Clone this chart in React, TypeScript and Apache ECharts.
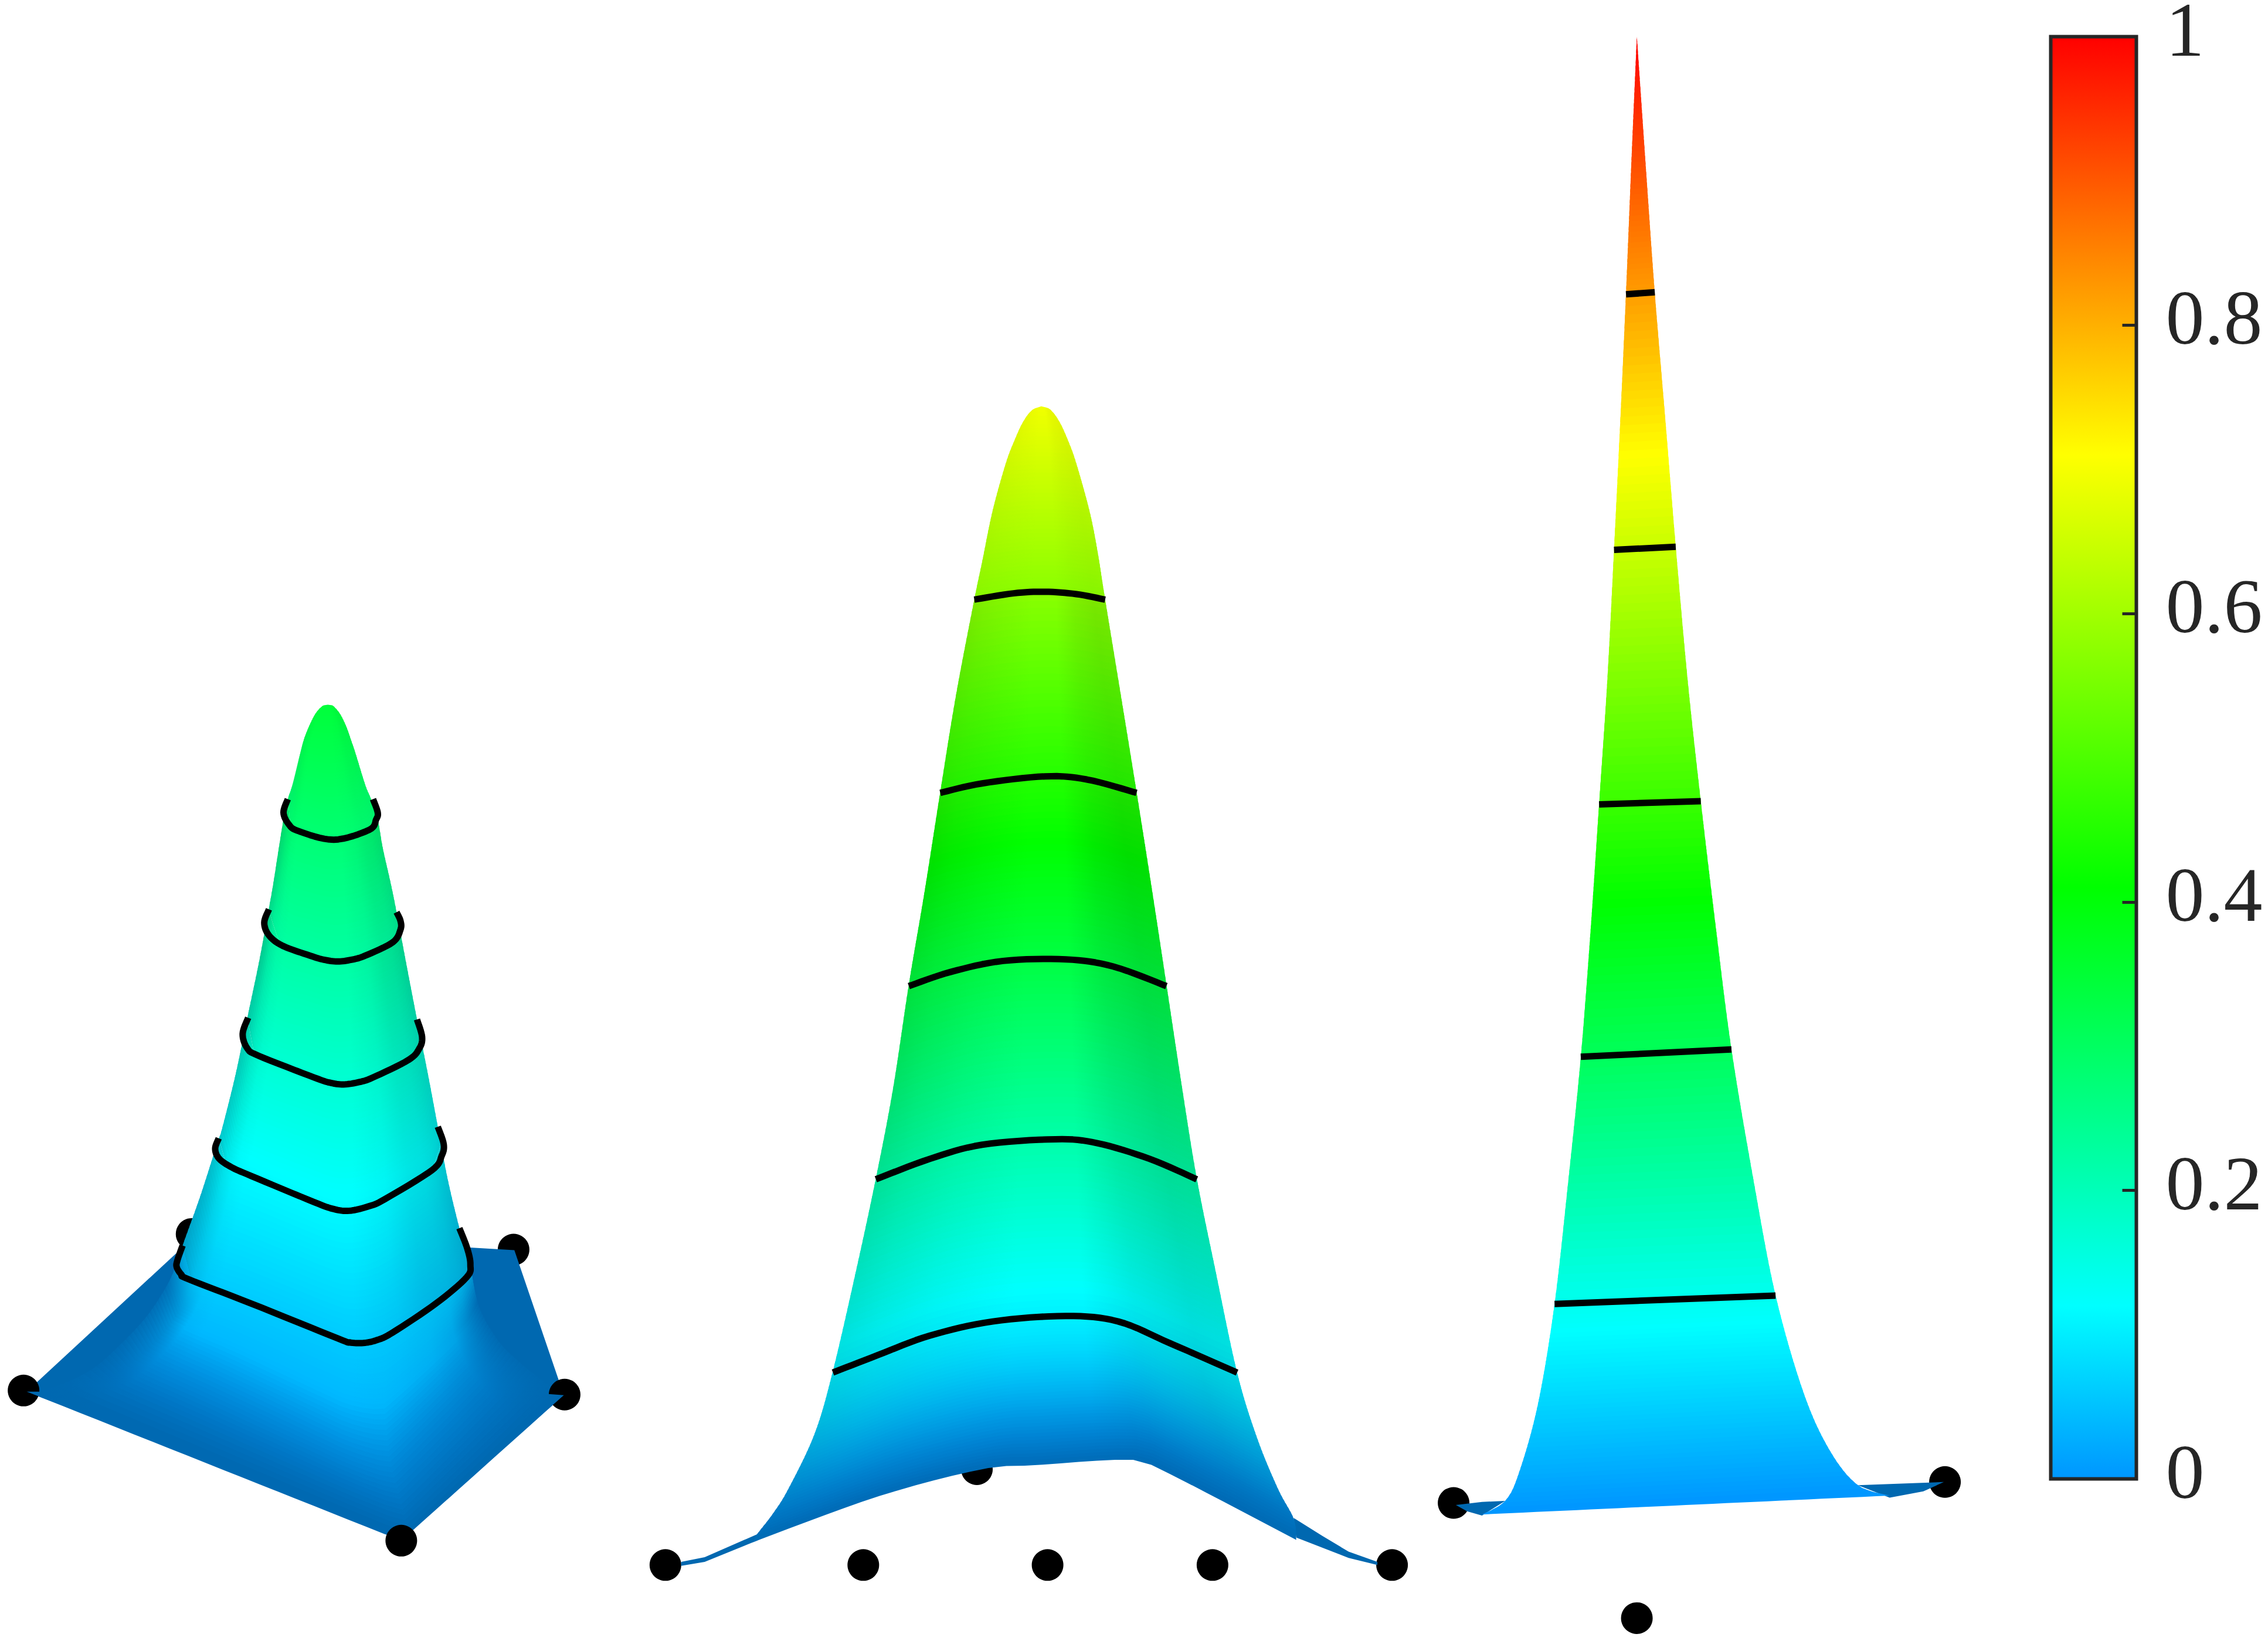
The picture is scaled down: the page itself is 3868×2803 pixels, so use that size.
import React, { useEffect, useRef } from "react";
import * as echarts from "echarts";

type P = number[];

// Colour scale
const COLOR_STOPS: [number, number[]][] = [
  [0, [0, 150, 255]],
  [0.12, [0, 255, 255]],
  [0.41, [0, 255, 0]],
  [0.71, [255, 255, 0]],
  [1, [255, 0, 0]],
];
const FLAT = [0, 104, 176];
const BAR_TICKS = [0, 0.2, 0.4, 0.6, 0.8, 1];

// Surface 1 (read in a 1568-square frame of its panel)
const S1_LEFT: P[] = [[835,52],[822,54],[805,66],[790,85],[775,110],[765,135],[745,190],[733,215],[722,250],[710,300],[695,365],[683,410],[660,495],[630,592],[600,690],[565,785],[555,805],[510,900],[465,985],[445,1025],[420,1060],[370,1110],[300,1160],[230,1200],[140,1228],[68,1237]];
const S1_RIGHT: P[] = [[835,52],[848,54],[866,68],[882,90],[895,115],[905,135],[930,190],[945,215],[962,250],[975,300],[995,360],[1010,410],[1035,500],[1062,595],[1090,690],[1115,780],[1140,870],[1170,955],[1190,1000],[1198,1020],[1220,1090],[1270,1150],[1330,1190],[1390,1222],[1436,1243]];
const S1_C1: P[] = [[465,985],[452,1010],[450,1022],[462,1035],[480,1043],[640,1085],[860,1145],[890,1152],[925,1153],[960,1148],[1000,1135],[1110,1085],[1188,1040],[1198,1018],[1190,990],[1170,955]];
const S1_C2: P[] = [[557,800],[548,818],[558,835],[590,850],[640,865],[800,910],[850,922],[890,925],[940,917],[980,905],[1100,855],[1125,830],[1130,810],[1115,780]];
const S1_C3: P[] = [[632,592],[618,620],[630,645],[660,658],[800,695],[840,704],[875,707],[915,703],[950,695],[1040,665],[1068,645],[1075,625],[1062,595]];
const S1_C4: P[] = [[685,405],[673,428],[685,450],[720,468],[790,485],[825,492],[860,495],[895,492],[930,485],[1000,462],[1020,440],[1020,425],[1010,410]];
const S1_C5: P[] = [[733,215],[722,238],[735,258],[760,270],[850,285],[940,268],[958,250],[962,238],[950,215]];
const S1_BASE_EDGE: P[] = [[68,1237],[1022,1494],[1436,1243]];
const S1_APEX: P[] = [[835,52],[836,52]];
const S1_VALUES = [0, 0.06, 0.115, 0.17, 0.225, 0.28, 0.345];
const S1_FLAT: P[] = [[68,1237],[470,985],[1190,988],[1310,993],[1436,1243],[1055,1470],[1022,1480],[985,1478]];
const S1_WEDGES: P[][] = [[[68,1237],[110,1237],[110,1248]], [[1436,1243],[1396,1241],[1396,1267]]];
const S1_DOTS_BACK: P[] = [[488,965],[1308,992]];
const S1_DOTS_TOP: P[] = [[60,1235],[1438,1242],[1022,1494]];

// Surface 2
const S2_LEFT: P[] = [[813,32],[795,37],[778,52],[762,75],[745,105],[720,165],[700,230],[685,278],[650,400],[620,523],[590,650],[560,768],[530,900],[497,1015],[460,1130],[415,1260],[380,1340],[330,1410],[300,1442],[270,1468],[262,1478]];
const S2_RIGHT: P[] = [[813,32],[830,36],[848,52],[865,77],[880,105],[905,165],[920,215],[935,278],[965,400],[995,523],[1025,650],[1052,768],[1082,900],[1110,1015],[1145,1130],[1187,1262],[1225,1345],[1265,1410],[1295,1448],[1300,1475]];
const S2_C1: P[] = [[415,1262],[500,1240],[600,1215],[720,1197],[860,1190],[960,1197],[1060,1225],[1187,1262]];
const S2_C2: P[] = [[497,1016],[600,990],[700,972],[840,965],[920,970],[1020,990],[1110,1016]];
const S2_C3: P[] = [[560,770],[640,752],[740,738],[860,736],[950,745],[1052,770]];
const S2_C4: P[] = [[620,524],[700,512],[820,503],[900,507],[995,524]];
const S2_C5: P[] = [[685,278],[760,270],[820,268],[880,271],[935,278]];
const S2_BASE_EDGE: P[] = [[262,1478],[500,1420],[700,1385],[800,1380],[980,1373],[1040,1385],[1300,1475]];
const S2_APEX: P[] = [[813,32],[814,32]];
const S2_VALUES = [0, 0.105, 0.22, 0.337, 0.455, 0.575, 0.695];
const S2_WING_L: P[] = [[125,1503],[170,1497],[270,1468],[310,1440],[310,1462],[270,1476],[170,1503],[125,1508]];
const S2_WING_R: P[] = [[1455,1503],[1400,1490],[1350,1470],[1295,1447],[1300,1472],[1400,1498],[1455,1507]];
const S2_DOTS: P[] = [[95,1507],[473,1507],[825,1507],[1140,1507],[1483,1507],[690,1385]];

// Surface 3
const S3_LEFT: P[] = [[614,35],[600,150],[585,280],[570,400],[553,525],[535,650],[513,768],[490,890],[464,1010],[430,1130],[394,1245],[350,1340],[300,1405],[262,1433],[200,1446]];
const S3_RIGHT: P[] = [[614,35],[640,170],[662,280],[690,400],[718,522],[750,650],[785,765],[825,885],[867,1002],[925,1125],[985,1237],[1060,1330],[1130,1385],[1205,1418],[1290,1428]];
const S3_C1: P[] = [[394,1245],[985,1237]];
const S3_C2: P[] = [[464,1009],[867,1002]];
const S3_C3: P[] = [[513,768],[785,765]];
const S3_C4: P[] = [[553,525],[718,522]];
const S3_C5: P[] = [[585,281],[662,279]];
const S3_BASE_EDGE: P[] = [[200,1446],[1290,1428]];
const S3_APEX: P[] = [[614,35],[615,35]];
const S3_VALUES = [0, 0.14, 0.31, 0.48, 0.65, 0.825, 1];
const S3_WING_L: P[] = [[130,1437],[200,1434],[262,1433],[200,1447],[160,1443]];
const S3_WING_R: P[] = [[1435,1415],[1205,1418],[1290,1430],[1380,1424]];
const S3_DOTS: P[] = [[124,1435],[1438,1415],[614,1545]];

const lerp = (a: number, b: number, t: number) => a + (b - a) * t;

function colormap(v: number): number[] {
  for (let i = 1; i < COLOR_STOPS.length; i++) {
    if (v <= COLOR_STOPS[i][0]) {
      const [a, ca] = COLOR_STOPS[i - 1];
      const [b, cb] = COLOR_STOPS[i];
      const t = Math.max(0, (v - a) / (b - a));
      return ca.map((c, k) => lerp(c, cb[k], t));
    }
  }
  return COLOR_STOPS[COLOR_STOPS.length - 1][1];
}
const css = (c: number[]) => `rgb(${c.map((x) => Math.round(x)).join(",")})`;

function monotone(curve: P[]): P[] {
  const out: P[] = [];
  let mx = -Infinity;
  for (const p of curve) {
    if (p[0] > mx) {
      out.push(p);
      mx = p[0];
    }
  }
  return out;
}

// Catmull-Rom drawing of a read outline, passing through every read point.
function refine(edge: P[]): P[] {
  const out: P[] = [];
  const n = edge.length;
  for (let i = 0; i < n - 1; i++) {
    const p0 = edge[Math.max(0, i - 1)];
    const p1 = edge[i];
    const p2 = edge[i + 1];
    const p3 = edge[Math.min(n - 1, i + 2)];
    for (let s = 0; s < 8; s++) {
      const t = s / 8;
      const t2 = t * t;
      const t3 = t2 * t;
      const f = (k: number) =>
        0.5 * (2 * p1[k] + (p2[k] - p0[k]) * t + (2 * p0[k] - 5 * p1[k] + 4 * p2[k] - p3[k]) * t2 + (3 * p1[k] - p0[k] - 3 * p2[k] + p3[k]) * t3);
      out.push([f(0), f(1)]);
    }
  }
  out.push(edge[n - 1]);
  return out;
}

function yAtU(curve: P[], u: number): number {
  const x0 = curve[0][0];
  const x1 = curve[curve.length - 1][0];
  const x = lerp(x0, x1, u);
  for (let i = 1; i < curve.length; i++) {
    if (x <= curve[i][0]) {
      const t = (x - curve[i - 1][0]) / (curve[i][0] - curve[i - 1][0]);
      return lerp(curve[i - 1][1], curve[i][1], t);
    }
  }
  return curve[curve.length - 1][1];
}

function xAtY(edge: P[], y: number): number {
  if (y <= edge[0][1]) return edge[0][0];
  for (let i = 1; i < edge.length; i++) {
    if (y <= edge[i][1]) {
      const dy = edge[i][1] - edge[i - 1][1];
      const t = dy > 0 ? (y - edge[i - 1][1]) / dy : 1;
      return lerp(edge[i - 1][0], edge[i][0], t);
    }
  }
  return edge[edge.length - 1][0];
}

type Look = {
  us: number[];
  ds: number[];
  bottom: (t: number) => { center: number; edge: number };
  fadeStart: number;
  bottomShade: number;
};

type Strip = { points: P[]; stops: { offset: number; color: string }[] | null; fill: string };

function buildStrips(leftRaw: P[], rightRaw: P[], curves: P[][], values: number[], perBand: number, look: Look | null): Strip[] {
  const left = refine(leftRaw);
  const right = refine(rightRaw);
  const mono = curves.map((c) => {
    const m = monotone(c);
    return m.length > 3 ? monotone(refine(m)) : m;
  });
  const N = 30;
  const curveAt = (band: number, t: number): P[] => {
    const lo = mono[band];
    const hi = mono[band + 1];
    const ys: number[] = [];
    for (let i = 0; i <= N; i++) {
      const u = i / N;
      ys.push(lerp(yAtU(lo, u), yAtU(hi, u), t));
    }
    const xl = xAtY(left, ys[0]);
    const xr = xAtY(right, ys[N]);
    return ys.map((y, i) => [lerp(xl, xr, i / N), y]);
  };
  const top = values.length - 2;
  const strips: Strip[] = [];
  for (let band = top; band >= 0; band--) {
    const n = band === 0 ? perBand + 16 : band === top ? perBand + 18 : perBand;
    const bandWeight = band === top ? 0.3 : band === top - 1 ? 0.75 : 1;
    for (let k = n; k > 0; k--) {
      const tTop = Math.min(1, k / n + 0.6 / n);
      const tBot = (k - 1) / n;
      const tMid = (k - 0.5) / n;
      const upper = curveAt(band, tTop);
      const lower = curveAt(band, tBot);
      const sideL: P[] = [];
      const sideR: P[] = [];
      for (let s = 1; s < 4; s++) {
        const yL = lerp(lower[0][1], upper[0][1], s / 4);
        const yR = lerp(upper[N][1], lower[N][1], s / 4);
        sideL.push([xAtY(left, yL), yL]);
        sideR.push([xAtY(right, yR), yR]);
      }
      const points = upper.concat(sideR, lower.slice().reverse(), sideL);
      const v = lerp(values[band], values[band + 1], tMid);
      const base = colormap(v);
      let stops: Strip["stops"] = null;
      if (look) {
        const fall = band === 0 ? 1 - tMid : 0;
        const b = band === 0 ? look.bottom(fall) : { center: 0, edge: 0 };
        const weight = band === 0 ? look.bottomShade : bandWeight;
        stops = look.us.map((u, i) => {
          const shade = 1 - look.ds[i] * weight;
          const lit = base.map((c) => c * shade);
          const side = u < 0.45 ? (0.45 - u) / 0.45 : (u - 0.45) / 0.55;
          const w = Math.min(1, Math.pow(Math.max(0, side - look.fadeStart) / (1 - look.fadeStart), 1.5));
          const d = b.center + (Math.max(b.edge, b.center) - b.center) * w;
          return { offset: u, color: css(lit.map((c, j) => lerp(c, FLAT[j], d))) };
        });
      }
      strips.push({ points, stops, fill: css(base) });
    }
  }
  return strips;
}

const LOOK_1: Look = {
  us: [0, 0.02, 0.04, 0.08, 0.13, 0.3, 0.6, 0.75, 0.85, 0.92, 0.96, 1],
  ds: [0.24, 0.16, 0.08, 0.02, 0, 0, 0, 0.04, 0.1, 0.12, 0.15, 0.2],
  fadeStart: 0.8,
  bottomShade: 0.5,
  bottom: (t) => ({ center: Math.max(0, Math.min(1, (t - 0.35) / 0.65)), edge: Math.min(1, 0.1 + t * 3) }),
};
const LOOK_2: Look = {
  us: [0, 0.1, 0.25, 0.45, 0.62, 0.75, 0.9, 1],
  ds: [0.12, 0.08, 0.04, 0, 0, 0.08, 0.13, 0.12],
  fadeStart: 0.9,
  bottomShade: 1,
  bottom: (t) => ({ center: Math.pow(t, 2.4) * 0.9, edge: Math.pow(t, 2.4) * 0.9 }),
};

function stripSeries(strips: Strip[], axis: number): any {
  return {
    type: "custom",
    xAxisIndex: axis,
    yAxisIndex: axis,
    z: 3,
    silent: true,
    data: strips.map((_, i) => [i, 0]),
    renderItem: (params: any, api: any) => {
      const s = strips[params.dataIndex];
      const fill = s.stops ? new echarts.graphic.LinearGradient(0, 0, 1, 0, s.stops) : s.fill;
      return {
        type: "polygon",
        shape: { points: s.points.map((p) => api.coord(p)) },
        style: { fill },
      };
    },
  };
}

function polySeries(points: P[], color: string, axis: number, z: number): any {
  return {
    type: "custom",
    xAxisIndex: axis,
    yAxisIndex: axis,
    z,
    silent: true,
    data: [[0, 0]],
    renderItem: (_: any, api: any) => ({
      type: "polygon",
      shape: { points: points.map((p) => api.coord(p)) },
      style: { fill: color },
    }),
  };
}

function lineSeries(points: P[], axis: number): any {
  return {
    type: "line",
    xAxisIndex: axis,
    yAxisIndex: axis,
    z: 4,
    silent: true,
    clip: false,
    smooth: false,
    showSymbol: false,
    data: points.length > 2 ? refine(points) : points,
    lineStyle: { color: "#000", width: 11, cap: "butt", join: "round", opacity: 1 },
  };
}

function dotSeries(points: P[], axis: number, z: number): any {
  return {
    type: "scatter",
    xAxisIndex: axis,
    yAxisIndex: axis,
    z,
    silent: true,
    clip: false,
    symbol: "circle",
    symbolSize: 54,
    data: points,
    itemStyle: { color: "#000", opacity: 1 },
  };
}

const hiddenX = (i: number) => ({ type: "value", gridIndex: i, min: 0, max: 1568, show: false });
const hiddenY = (i: number) => ({ type: "value", gridIndex: i, min: 0, max: 1568, inverse: true, show: false });

export default function App() {
  const ref = useRef<HTMLDivElement>(null);
  useEffect(() => {
    document.body.style.margin = "0";
    document.body.style.background = "#fff";
    const chart = echarts.init(ref.current!, undefined, { renderer: "svg", width: 3868, height: 2803 });

    const s1 = buildStrips(S1_LEFT, S1_RIGHT, [S1_BASE_EDGE, S1_C1, S1_C2, S1_C3, S1_C4, S1_C5, S1_APEX], S1_VALUES, 22, LOOK_1);
    const s2 = buildStrips(S2_LEFT, S2_RIGHT, [S2_BASE_EDGE, S2_C1, S2_C2, S2_C3, S2_C4, S2_C5, S2_APEX], S2_VALUES, 28, LOOK_2);
    const s3 = buildStrips(S3_LEFT, S3_RIGHT, [S3_BASE_EDGE, S3_C1, S3_C2, S3_C3, S3_C4, S3_C5, S3_APEX], S3_VALUES, 30, null);

    const option: any = {
      animation: false,
      backgroundColor: "#fff",
      grid: [
        { left: 0, top: 1150, width: 1050, height: 1550, outerBoundsMode: "none" },
        { left: 1050, top: 650, width: 1400, height: 2100, outerBoundsMode: "none" },
        { left: 2400, top: 0, width: 1000, height: 2800, outerBoundsMode: "none" },
        { left: 3497.5, top: 62.5, width: 146, height: 2459, outerBoundsMode: "none" },
      ],
      xAxis: [hiddenX(0), hiddenX(1), hiddenX(2), { type: "category", gridIndex: 3, data: [""], show: false }],
      yAxis: [
        hiddenY(0),
        hiddenY(1),
        hiddenY(2),
        {
          type: "value",
          gridIndex: 3,
          position: "right",
          min: BAR_TICKS[0],
          max: BAR_TICKS[BAR_TICKS.length - 1],
          interval: 0.2,
          z: 10,
          splitLine: { show: false },
          axisLine: { show: false },
          axisTick: { show: true, inside: true, length: 24, lineStyle: { color: "#262626", width: 5 } },
          axisLabel: {
            show: true,
            margin: 50,
            color: "#262626",
            fontFamily: "Liberation Serif",
            fontSize: 132,
            lineHeight: 25,
            verticalAlign: "bottom",
            formatter: (v: number) => (v === 0 || v === 1 ? String(v) : v.toFixed(1)),
          },
        },
      ],
      series: [
        dotSeries(S1_DOTS_BACK, 0, 1),
        polySeries(S1_FLAT, css(FLAT), 0, 2),
        stripSeries(s1, 0),
        ...[S1_C1, S1_C2, S1_C3, S1_C4, S1_C5].map((c) => lineSeries(c, 0)),
        dotSeries(S1_DOTS_TOP, 0, 5),
        ...S1_WEDGES.map((w) => polySeries(w, css(FLAT), 0, 6)),

        dotSeries(S2_DOTS, 1, 1),
        polySeries(S2_WING_L, css(FLAT), 1, 2),
        polySeries(S2_WING_R, css(FLAT), 1, 2),
        stripSeries(s2, 1),
        ...[S2_C1, S2_C2, S2_C3, S2_C4, S2_C5].map((c) => lineSeries(c, 1)),

        dotSeries(S3_DOTS, 2, 1),
        polySeries(S3_WING_L, css(FLAT), 2, 2),
        polySeries(S3_WING_R, css(FLAT), 2, 2),
        stripSeries(s3, 2),
        ...[S3_C1, S3_C2, S3_C3, S3_C4, S3_C5].map((c) => lineSeries(c, 2)),

        {
          type: "bar",
          xAxisIndex: 3,
          yAxisIndex: 3,
          barWidth: "100%",
          silent: true,
          z: 2,
          data: [1],
          itemStyle: {
            color: new echarts.graphic.LinearGradient(
              0,
              1,
              0,
              0,
              COLOR_STOPS.map(([offset, c]) => ({ offset, color: css(c) }))
            ),
          },
        },
        {
          type: "custom",
          xAxisIndex: 3,
          yAxisIndex: 3,
          silent: true,
          z: 3,
          data: [[0, 0]],
          renderItem: (params: any) => ({
            type: "rect",
            shape: { x: params.coordSys.x, y: params.coordSys.y, width: params.coordSys.width, height: params.coordSys.height },
            style: { fill: "none", stroke: "#262626", lineWidth: 6 },
          }),
        },
      ],
    };
    chart.setOption(option);
    return () => chart.dispose();
  }, []);
  return <div ref={ref} style={{ position: "absolute", left: 0, top: 0, width: 3868, height: 2803 }} />;
}
